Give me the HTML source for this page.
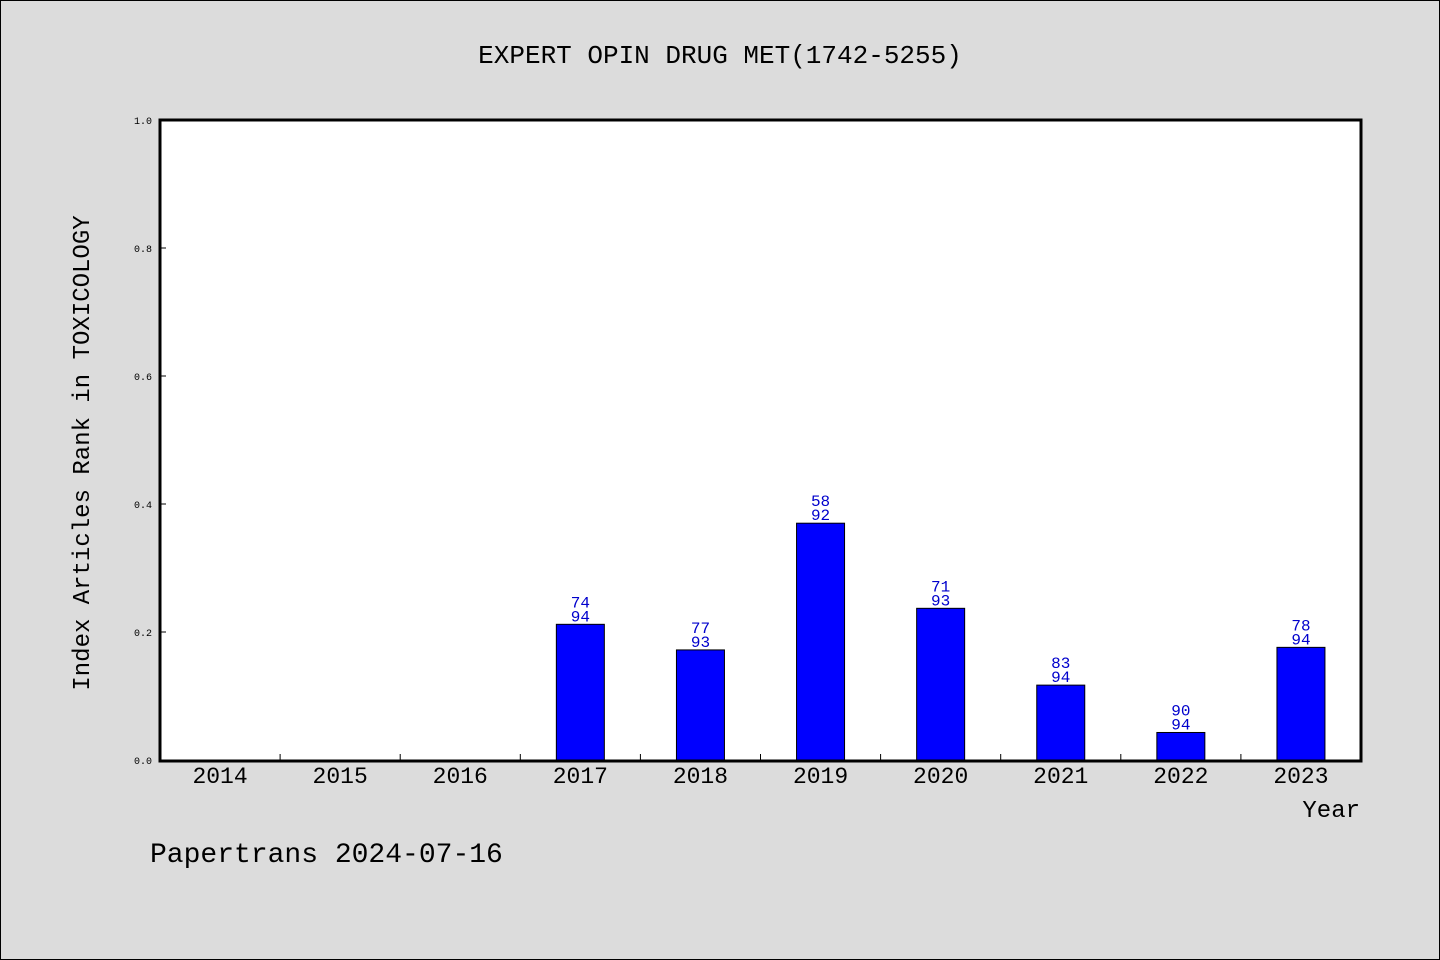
<!DOCTYPE html>
<html><head><meta charset="utf-8"><style>
html,body{margin:0;padding:0;background:#dcdcdc;}
svg{display:block;font-family:"WenQuanYi Zen Hei","Liberation Mono",monospace;}
</style></head><body>
<svg id="chart" width="1440" height="960" viewBox="0 0 1440 960" xmlns="http://www.w3.org/2000/svg">
<rect x="0.5" y="0.5" width="1439" height="959" fill="#dcdcdc" stroke="#000"/>
<text x="720" y="63" font-size="26" text-anchor="middle">EXPERT OPIN DRUG MET(1742-5255)</text>
<rect x="160" y="120" width="1201" height="641" fill="#fff"/>
<g id="yaxis"></g>
<g id="xaxis"></g>
<g id="bars"></g>
<rect x="160" y="120" width="1201" height="641" fill="none" stroke="#000" stroke-width="3"/>
<text transform="translate(89,453) rotate(-90)" font-size="24" text-anchor="middle">Index Articles Rank in TOXICOLOGY</text>
<text x="1360" y="817" font-size="24" text-anchor="end">Year</text>
<text x="150" y="862" font-size="28">Papertrans 2024-07-16</text>
</svg>
<script>
const categories = ["2014","2015","2016","2017","2018","2019","2020","2021","2022","2023"];
const values = [0,0,0,0.212,0.172,0.37,0.237,0.117,0.043,0.176];
const ranks = [null,null,null,74,77,58,71,83,90,78];
const totals = [null,null,null,94,93,92,93,94,94,94];
const yTicks = [0,0.2,0.4,0.6,0.8,1.0];
const yTickLabels = ["0.0","0.2","0.4","0.6","0.8","1.0"];

const NS="http://www.w3.org/2000/svg";
const X0=160,X1=1361,Y0=760,Y1=120;
const band=(X1-X0)/categories.length;
const xc=i=>X0+band*(i+0.5);
const y=v=>Y0-(Y0-Y1)*v;
function mk(t,a,p){const e=document.createElementNS(NS,t);for(const k in a)e.setAttribute(k,a[k]);p.appendChild(e);return e;}
const ya=document.getElementById('yaxis'),xa=document.getElementById('xaxis'),bg=document.getElementById('bars');
yTicks.forEach((v,i)=>{
  const l=mk('line',{x1:X0,x2:X0+6,y1:y(v),y2:y(v),stroke:'#000'},ya);
  
  
  const t=mk('text',{x:X0-8,y:y(v)+4,'font-size':10,'text-anchor':'end'},ya);
  t.textContent=yTickLabels[i];
  
  
});
categories.forEach((c,i)=>{
  if(i>0){const l=mk('line',{x1:X0+band*i,x2:X0+band*i,y1:Y0,y2:Y0-6,stroke:'#000'},xa);
  
  }
  const t=mk('text',{x:xc(i),y:783,'font-size':23,'text-anchor':'middle'},xa);
  t.textContent=c;
  
  
  if(values[i]>0){
    const r=mk('rect',{x:xc(i)-24,y:y(values[i]),width:48,height:Y0-y(values[i]),fill:'#0000ff',stroke:'#000','stroke-width':1},bg);
    
    
    const a=mk('text',{x:xc(i),y:y(values[i])-17,'font-size':16,'text-anchor':'middle',fill:'#0000cc'},bg);
    a.textContent=ranks[i];
    
    
    const b=mk('text',{x:xc(i),y:y(values[i])-3,'font-size':16,'text-anchor':'middle',fill:'#0000cc'},bg);
    b.textContent=totals[i];
    
    
  }
});
</script>
</body></html>
